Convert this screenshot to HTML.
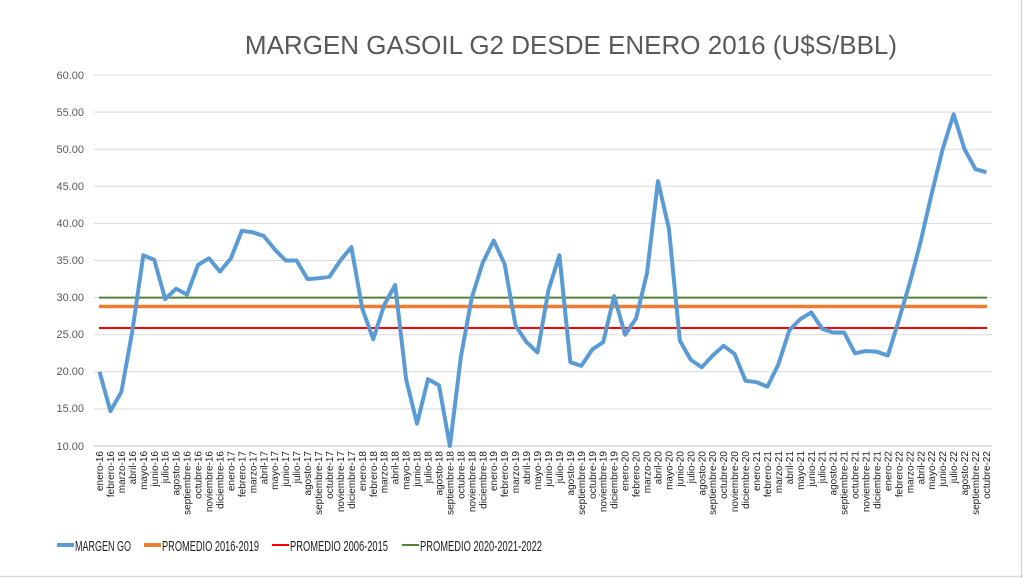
<!DOCTYPE html>
<html><head><meta charset="utf-8"><style>
html,body{margin:0;padding:0;background:#fff;}
svg{display:block;font-family:"Liberation Sans",sans-serif;}
.t{font-size:10px;fill:#222;text-anchor:end;}
.y{font-size:11px;fill:#595959;text-anchor:end;}
.l{font-size:15px;fill:#222;}
</style></head><body>
<svg width="1023" height="578" viewBox="0 0 1023 578">
<rect width="1023" height="578" fill="#fff"/>
<line x1="1021.5" y1="0" x2="1021.5" y2="578" stroke="#d9d9d9" stroke-width="1.5"/>
<line x1="0" y1="576.5" x2="1023" y2="576.5" stroke="#d9d9d9" stroke-width="1.5"/>
<text x="571" y="54" font-size="26" fill="#595959" text-anchor="middle">MARGEN GASOIL G2 DESDE ENERO 2016 (U$S/BBL)</text>
<g stroke="#d9d9d9" stroke-width="1">
<line x1="94" x2="992" y1="75" y2="75"/><line x1="94" x2="992" y1="112.1" y2="112.1"/><line x1="94" x2="992" y1="149.2" y2="149.2"/><line x1="94" x2="992" y1="186.3" y2="186.3"/><line x1="94" x2="992" y1="223.4" y2="223.4"/><line x1="94" x2="992" y1="260.5" y2="260.5"/><line x1="94" x2="992" y1="297.6" y2="297.6"/><line x1="94" x2="992" y1="334.7" y2="334.7"/><line x1="94" x2="992" y1="371.8" y2="371.8"/><line x1="94" x2="992" y1="408.9" y2="408.9"/>
<line x1="94" x2="992" y1="446" y2="446" stroke="#bfbfbf"/>
</g>
<g class="y">
<text x="84" y="79">60.00</text><text x="84" y="116">55.00</text><text x="84" y="153">50.00</text><text x="84" y="190">45.00</text><text x="84" y="227">40.00</text><text x="84" y="264">35.00</text><text x="84" y="301">30.00</text><text x="84" y="338">25.00</text><text x="84" y="375">20.00</text><text x="84" y="412">15.00</text><text x="84" y="450">10.00</text>
</g>
<line x1="99" x2="987" y1="297.6" y2="297.6" stroke="#548235" stroke-width="2"/>
<line x1="99" x2="987" y1="306.5" y2="306.5" stroke="#ed7d31" stroke-width="3.5"/>
<line x1="99" x2="987" y1="328" y2="328" stroke="#ff0000" stroke-width="2"/>
<polyline fill="none" stroke="#5b9bd5" stroke-width="4" stroke-linejoin="round" points="99.5,371.8 110.45,411.1 121.4,391.8 132.35,331 143.3,255.3 154.25,259.8 165.2,299.1 176.15,288.7 187.1,294.6 198.05,264.9 209,258.3 219.95,271.6 230.9,258.3 241.85,230.8 252.8,232.3 263.75,236 274.7,249.4 285.65,260.5 296.6,260.5 307.55,279.1 318.5,278.3 329.45,276.8 340.4,260.5 351.35,247.1 362.3,308.7 373.25,339.2 384.2,305 395.15,285 406.1,379.2 417.05,423.7 428,379.2 438.95,385.2 449.9,446 460.85,357 471.8,297.6 482.75,262.7 493.7,240.5 504.65,264.2 515.6,325.8 526.55,342.1 537.5,352.5 548.45,290.2 559.4,255.3 570.35,362.2 581.3,365.9 592.25,349.5 603.2,342.1 614.15,296.1 625.1,334.7 636.05,318.4 647,273.1 657.95,181.1 668.9,228.6 679.85,340.6 690.8,359.9 701.75,367.3 712.7,355.5 723.65,345.8 734.6,354 745.55,380.7 756.5,382.2 767.45,386.6 778.4,364.4 789.35,330.2 800.3,319.1 811.25,312.4 822.2,328.8 833.15,332.5 844.1,332.5 855.05,353.3 866,351 876.95,351.8 887.9,355.5 898.85,319.9 909.8,282.8 920.75,241.2 931.7,193.7 942.65,149.2 953.6,114.3 964.55,149.2 975.5,169.2 986.45,172.2"/>
<g class="t">
<g transform="translate(99.5,451) rotate(-90)"><text y="3.5">enero-16</text></g>
<g transform="translate(110.45,451) rotate(-90)"><text y="3.5">febrero-16</text></g>
<g transform="translate(121.4,451) rotate(-90)"><text y="3.5">marzo-16</text></g>
<g transform="translate(132.35,451) rotate(-90)"><text y="3.5">abril-16</text></g>
<g transform="translate(143.3,451) rotate(-90)"><text y="3.5">mayo-16</text></g>
<g transform="translate(154.25,451) rotate(-90)"><text y="3.5">junio-16</text></g>
<g transform="translate(165.2,451) rotate(-90)"><text y="3.5">julio-16</text></g>
<g transform="translate(176.15,451) rotate(-90)"><text y="3.5">agosto-16</text></g>
<g transform="translate(187.1,451) rotate(-90)"><text y="3.5">septiembre-16</text></g>
<g transform="translate(198.05,451) rotate(-90)"><text y="3.5">octubre-16</text></g>
<g transform="translate(209,451) rotate(-90)"><text y="3.5">noviembre-16</text></g>
<g transform="translate(219.95,451) rotate(-90)"><text y="3.5">diciembre-16</text></g>
<g transform="translate(230.9,451) rotate(-90)"><text y="3.5">enero-17</text></g>
<g transform="translate(241.85,451) rotate(-90)"><text y="3.5">febrero-17</text></g>
<g transform="translate(252.8,451) rotate(-90)"><text y="3.5">marzo-17</text></g>
<g transform="translate(263.75,451) rotate(-90)"><text y="3.5">abril-17</text></g>
<g transform="translate(274.7,451) rotate(-90)"><text y="3.5">mayo-17</text></g>
<g transform="translate(285.65,451) rotate(-90)"><text y="3.5">junio-17</text></g>
<g transform="translate(296.6,451) rotate(-90)"><text y="3.5">julio-17</text></g>
<g transform="translate(307.55,451) rotate(-90)"><text y="3.5">agosto-17</text></g>
<g transform="translate(318.5,451) rotate(-90)"><text y="3.5">septiembre-17</text></g>
<g transform="translate(329.45,451) rotate(-90)"><text y="3.5">octubre-17</text></g>
<g transform="translate(340.4,451) rotate(-90)"><text y="3.5">noviembre-17</text></g>
<g transform="translate(351.35,451) rotate(-90)"><text y="3.5">diciembre-17</text></g>
<g transform="translate(362.3,451) rotate(-90)"><text y="3.5">enero-18</text></g>
<g transform="translate(373.25,451) rotate(-90)"><text y="3.5">febrero-18</text></g>
<g transform="translate(384.2,451) rotate(-90)"><text y="3.5">marzo-18</text></g>
<g transform="translate(395.15,451) rotate(-90)"><text y="3.5">abril-18</text></g>
<g transform="translate(406.1,451) rotate(-90)"><text y="3.5">mayo-18</text></g>
<g transform="translate(417.05,451) rotate(-90)"><text y="3.5">junio-18</text></g>
<g transform="translate(428,451) rotate(-90)"><text y="3.5">julio-18</text></g>
<g transform="translate(438.95,451) rotate(-90)"><text y="3.5">agosto-18</text></g>
<g transform="translate(449.9,451) rotate(-90)"><text y="3.5">septiembre-18</text></g>
<g transform="translate(460.85,451) rotate(-90)"><text y="3.5">octubre-18</text></g>
<g transform="translate(471.8,451) rotate(-90)"><text y="3.5">noviembre-18</text></g>
<g transform="translate(482.75,451) rotate(-90)"><text y="3.5">diciembre-18</text></g>
<g transform="translate(493.7,451) rotate(-90)"><text y="3.5">enero-19</text></g>
<g transform="translate(504.65,451) rotate(-90)"><text y="3.5">febrero-19</text></g>
<g transform="translate(515.6,451) rotate(-90)"><text y="3.5">marzo-19</text></g>
<g transform="translate(526.55,451) rotate(-90)"><text y="3.5">abril-19</text></g>
<g transform="translate(537.5,451) rotate(-90)"><text y="3.5">mayo-19</text></g>
<g transform="translate(548.45,451) rotate(-90)"><text y="3.5">junio-19</text></g>
<g transform="translate(559.4,451) rotate(-90)"><text y="3.5">julio-19</text></g>
<g transform="translate(570.35,451) rotate(-90)"><text y="3.5">agosto-19</text></g>
<g transform="translate(581.3,451) rotate(-90)"><text y="3.5">septiembre-19</text></g>
<g transform="translate(592.25,451) rotate(-90)"><text y="3.5">octubre-19</text></g>
<g transform="translate(603.2,451) rotate(-90)"><text y="3.5">noviembre-19</text></g>
<g transform="translate(614.15,451) rotate(-90)"><text y="3.5">diciembre-19</text></g>
<g transform="translate(625.1,451) rotate(-90)"><text y="3.5">enero-20</text></g>
<g transform="translate(636.05,451) rotate(-90)"><text y="3.5">febrero-20</text></g>
<g transform="translate(647,451) rotate(-90)"><text y="3.5">marzo-20</text></g>
<g transform="translate(657.95,451) rotate(-90)"><text y="3.5">abril-20</text></g>
<g transform="translate(668.9,451) rotate(-90)"><text y="3.5">mayo-20</text></g>
<g transform="translate(679.85,451) rotate(-90)"><text y="3.5">junio-20</text></g>
<g transform="translate(690.8,451) rotate(-90)"><text y="3.5">julio-20</text></g>
<g transform="translate(701.75,451) rotate(-90)"><text y="3.5">agosto-20</text></g>
<g transform="translate(712.7,451) rotate(-90)"><text y="3.5">septiembre-20</text></g>
<g transform="translate(723.65,451) rotate(-90)"><text y="3.5">octubre-20</text></g>
<g transform="translate(734.6,451) rotate(-90)"><text y="3.5">noviembre-20</text></g>
<g transform="translate(745.55,451) rotate(-90)"><text y="3.5">diciembre-20</text></g>
<g transform="translate(756.5,451) rotate(-90)"><text y="3.5">enero-21</text></g>
<g transform="translate(767.45,451) rotate(-90)"><text y="3.5">febrero-21</text></g>
<g transform="translate(778.4,451) rotate(-90)"><text y="3.5">marzo-21</text></g>
<g transform="translate(789.35,451) rotate(-90)"><text y="3.5">abril-21</text></g>
<g transform="translate(800.3,451) rotate(-90)"><text y="3.5">mayo-21</text></g>
<g transform="translate(811.25,451) rotate(-90)"><text y="3.5">junio-21</text></g>
<g transform="translate(822.2,451) rotate(-90)"><text y="3.5">julio-21</text></g>
<g transform="translate(833.15,451) rotate(-90)"><text y="3.5">agosto-21</text></g>
<g transform="translate(844.1,451) rotate(-90)"><text y="3.5">septiembre-21</text></g>
<g transform="translate(855.05,451) rotate(-90)"><text y="3.5">octubre-21</text></g>
<g transform="translate(866,451) rotate(-90)"><text y="3.5">noviembre-21</text></g>
<g transform="translate(876.95,451) rotate(-90)"><text y="3.5">diciembre-21</text></g>
<g transform="translate(887.9,451) rotate(-90)"><text y="3.5">enero-22</text></g>
<g transform="translate(898.85,451) rotate(-90)"><text y="3.5">febrero-22</text></g>
<g transform="translate(909.8,451) rotate(-90)"><text y="3.5">marzo-22</text></g>
<g transform="translate(920.75,451) rotate(-90)"><text y="3.5">abril-22</text></g>
<g transform="translate(931.7,451) rotate(-90)"><text y="3.5">mayo-22</text></g>
<g transform="translate(942.65,451) rotate(-90)"><text y="3.5">junio-22</text></g>
<g transform="translate(953.6,451) rotate(-90)"><text y="3.5">julio-22</text></g>
<g transform="translate(964.55,451) rotate(-90)"><text y="3.5">agosto-22</text></g>
<g transform="translate(975.5,451) rotate(-90)"><text y="3.5">septiembre-22</text></g>
<g transform="translate(986.45,451) rotate(-90)"><text y="3.5">octubre-22</text></g>
</g>
<line x1="57" x2="74" y1="545" y2="545" stroke="#5b9bd5" stroke-width="4"/>
<text class="l" x="75" y="551" textLength="56" lengthAdjust="spacingAndGlyphs">MARGEN GO</text>
<line x1="144" x2="161" y1="545" y2="545" stroke="#ed7d31" stroke-width="4"/>
<text class="l" x="162" y="551" textLength="97" lengthAdjust="spacingAndGlyphs">PROMEDIO 2016-2019</text>
<line x1="272" x2="289" y1="545" y2="545" stroke="#ff0000" stroke-width="2"/>
<text class="l" x="290" y="551" textLength="98" lengthAdjust="spacingAndGlyphs">PROMEDIO 2006-2015</text>
<line x1="402" x2="419" y1="545" y2="545" stroke="#548235" stroke-width="2"/>
<text class="l" x="420" y="551" textLength="122" lengthAdjust="spacingAndGlyphs">PROMEDIO 2020-2021-2022</text>
</svg>
</body></html>
